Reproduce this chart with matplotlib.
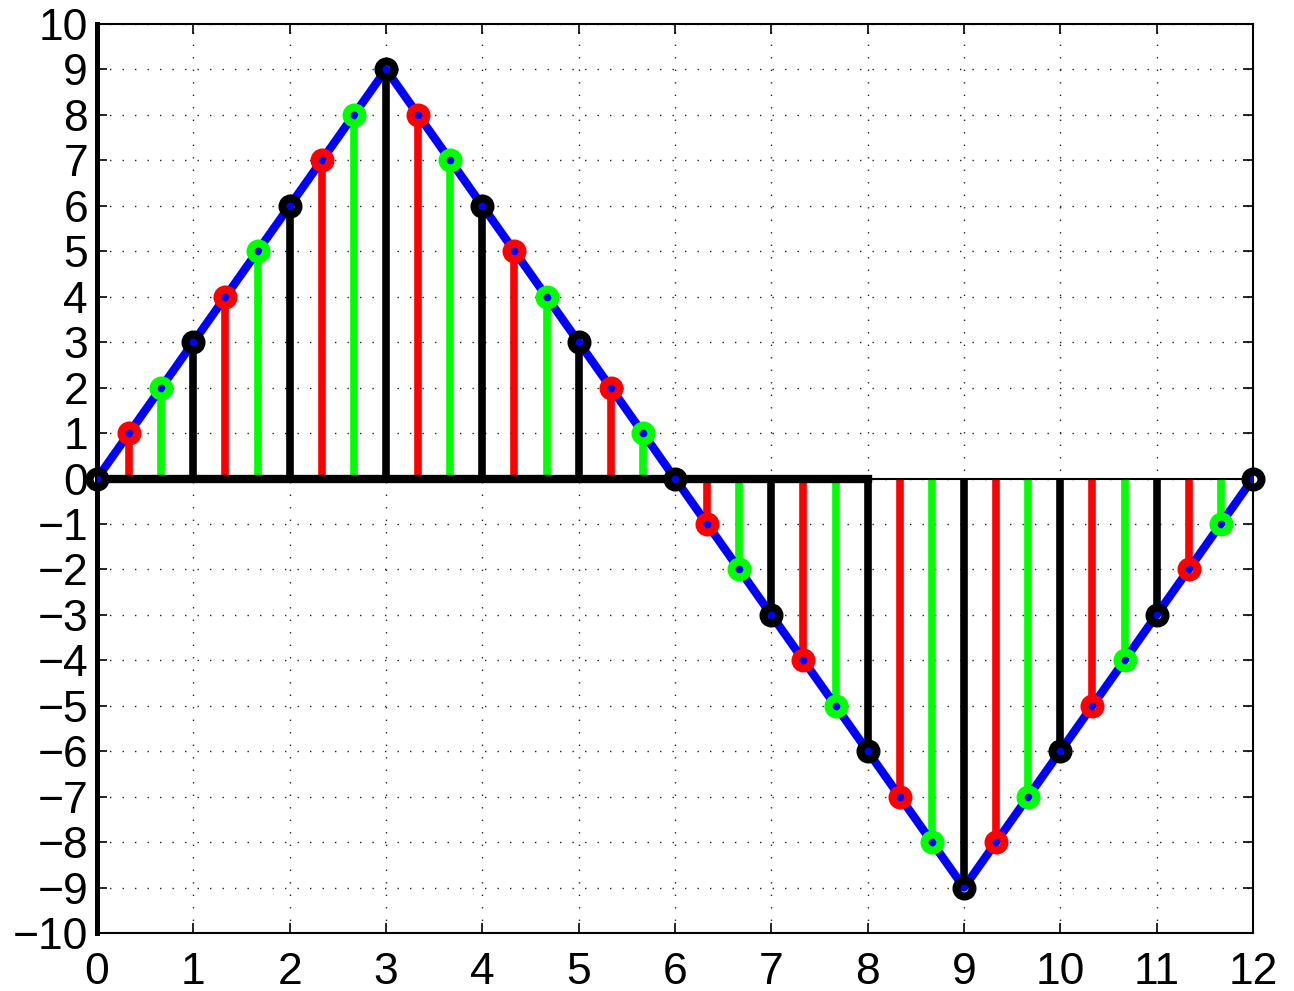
import numpy as np
import matplotlib
matplotlib.use("Agg")
import matplotlib.pyplot as plt

plt.rcParams['font.family'] = ['Liberation Sans', 'DejaVu Sans']

# sample index n, sampled at t = n/3
n = list(range(37))
values = [0, 1, 2, 3, 4, 5, 6, 7, 8, 9,
          8, 7, 6, 5, 4, 3, 2, 1, 0,
          -1, -2, -3, -4, -5, -6, -7, -8, -9,
          -8, -7, -6, -5, -4, -3, -2, -1, 0]
cycle_colors = ['#000000', '#ff0000', '#00ff00']
xticks = list(range(0, 13))
yticks = list(range(-10, 11))

t = np.array(n) / 3.0
v = np.array(values, dtype=float)

fig = plt.figure(figsize=(12.94, 9.91), dpi=100)
ax = fig.add_axes([0.0750, 0.0585, 0.8933, 0.9173])

ax.set_xlim(0, 12)
ax.set_ylim(-10, 10)

# grid
ax.grid(True, which='major', linestyle=(0, (1, 8)), color='#222222', linewidth=1.0)
ax.set_axisbelow(True)

# stems
for k in range(len(t)):
    ax.plot([t[k], t[k]], [0, v[k]], color=cycle_colors[k % 3], linewidth=5.5,
            solid_capstyle='butt', zorder=3)

# baselines
ax.plot([0, 8], [0, 0], color='black', linewidth=6, solid_capstyle='projecting', zorder=3.5)
ax.plot([8, 12], [0, 0], color='black', linewidth=1.5, zorder=3.5)
# y axis line
ax.plot([0, 0], [-10, 10], color='black', linewidth=3.6, clip_on=False, zorder=3.5)

# envelope
ax.plot(t, v, color='#0000ff', linewidth=6, zorder=4)

# markers
for k in range(len(t)):
    ax.plot(t[k], v[k], marker='o', markersize=11.5, markerfacecolor='none',
            markeredgecolor=cycle_colors[k % 3], markeredgewidth=5.8,
            linestyle='none', clip_on=False, zorder=5)

ax.set_xticks(xticks)
ax.set_yticks(yticks)
ax.set_xticklabels([str(x) for x in xticks])
ax.set_yticklabels([str(y).replace('-', '\u2212') for y in yticks])
ax.tick_params(direction='in', length=7, width=1.2, labelsize=32,
               top=True, right=True)
ax.tick_params(axis='x', pad=14)
ax.tick_params(axis='y', pad=6.5)
for s in ax.spines.values():
    s.set_linewidth(1.5)

fig.savefig('out.png', dpi=100)
